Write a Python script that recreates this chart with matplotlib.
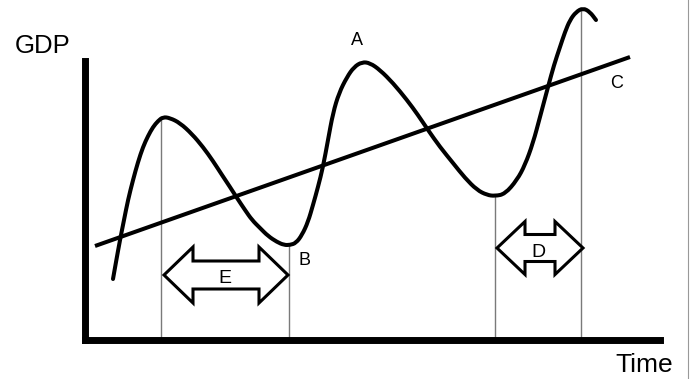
import matplotlib
matplotlib.use("Agg")
import matplotlib.pyplot as plt
from matplotlib.patches import Polygon, PathPatch
from matplotlib.path import Path

plt.rcParams['font.family'] = ['Liberation Sans', 'DejaVu Sans']

# ---- data (time, GDP) in chart units; origin at the axis corner ----
cycle_time = [28, 31, 35, 39, 43, 48, 53, 58, 63, 68, 73, 78, 85, 95, 107, 118,
              128, 137, 145, 152, 160, 167, 175, 183, 192, 199, 205,
              211, 217, 223, 228, 233, 238, 243, 248, 254, 262, 269, 277, 285,
              295, 308, 322, 333, 343, 355, 368, 380, 392, 402, 410,
              420, 432, 440, 448, 455, 463, 469, 475, 480, 485, 491, 498, 505, 511]
cycle_gdp = [61, 78, 100, 120, 140, 160, 178, 193, 204, 213, 219, 223, 222, 217, 206, 193,
             179, 165, 153, 142, 130, 120, 112, 104, 98, 95, 95,
             97, 105, 118, 135, 153, 173, 200, 227, 247, 263, 273, 278, 277,
             270, 257, 240, 225, 210, 193, 177, 162, 150, 145, 144,
             146, 160, 175, 197, 223, 253, 275, 293, 308, 320, 328, 332, 328, 320]

trend_time = [10, 545]
trend_gdp = [94, 283]

turn_time = [76, 204, 410, 496]
turn_gdp = [223, 95, 144, 332]

span_E = (79, 203, 65)   # start, end, level
span_D = (412, 498, 92)

axis_time_max = 575
axis_gdp_max = 279

labels = [("A", 272, 295, 'center'), ("B", 213, 75, 'left'), ("C", 525, 252, 'left')]
span_labels = [("E", 140, 57), ("D", 453, 83)]

# ---- figure ----
fig = plt.figure(figsize=(6.9, 3.79), dpi=100)
ax = fig.add_axes([0, 0, 1, 1])
ax.set_xlim(-85, 605)
ax.set_ylim(-39, 340)
ax.set_xticks([])
ax.set_yticks([])
for s in ['top', 'right']:
    ax.spines[s].set_visible(False)
for s in ['left', 'bottom']:
    sp = ax.spines[s]
    sp.set_position(('data', 0))
    sp.set_linewidth(5.0)
    sp.set_capstyle('projecting')
    sp.set_zorder(5)
ax.spines['left'].set_bounds(0, axis_gdp_max)
ax.spines['bottom'].set_bounds(0, axis_time_max)

# vertical guide lines at turning points
ax.vlines(turn_time, 0, turn_gdp, colors='#7a7a7a', linewidth=1.0, zorder=1)

# trend line
ax.plot(trend_time, trend_gdp, color='black', linewidth=2.9, solid_capstyle='butt', zorder=3)

# cycle: rendered as a smooth quadratic path through the read points
pts = list(zip(cycle_time, cycle_gdp))
verts = [pts[0], ((pts[0][0] + pts[1][0]) / 2, (pts[0][1] + pts[1][1]) / 2)]
codes = [Path.MOVETO, Path.LINETO]
for i in range(1, len(pts) - 1):
    nxt = pts[i + 1]
    verts += [pts[i], ((pts[i][0] + nxt[0]) / 2, (pts[i][1] + nxt[1]) / 2)]
    codes += [Path.CURVE3, Path.CURVE3]
verts.append(pts[-1])
codes.append(Path.LINETO)
ax.add_patch(PathPatch(Path(verts, codes), facecolor='none', edgecolor='black',
                       linewidth=2.9, capstyle='round', joinstyle='round', zorder=3))

# double arrows
def double_arrow(x0, x1, yc, hl, hh, sh):
    p = [(x0, yc), (x0 + hl, yc + hh), (x0 + hl, yc + sh), (x1 - hl, yc + sh),
         (x1 - hl, yc + hh), (x1, yc), (x1 - hl, yc - hh), (x1 - hl, yc - sh),
         (x0 + hl, yc - sh), (x0 + hl, yc - hh)]
    ax.add_patch(Polygon(p, closed=True, facecolor='white', edgecolor='black',
                         linewidth=2.2, joinstyle='miter', zorder=4))

double_arrow(span_E[0], span_E[1], span_E[2], 29, 28, 14)
double_arrow(span_D[0], span_D[1], span_D[2], 28, 26.5, 13.5)

for txt, x, y, ha in labels:
    ax.text(x, y, txt, fontsize=13, ha=ha, va='baseline', color='black')
for txt, x, y in span_labels:
    ax.text(x, y, txt, fontsize=14, ha='center', va='baseline', color='black', zorder=6)

ax.text(-70, 287, "GDP", fontsize=18.5, ha='left', va='baseline', color='black')
ax.text(588, -32, "Time", fontsize=19, ha='right', va='baseline', color='black')

# thin border line at right edge
fig.add_artist(plt.Line2D([687.5 / 690, 687.5 / 690], [0, 1], color='#999999', linewidth=0.8))

fig.savefig("out.png", dpi=100)
